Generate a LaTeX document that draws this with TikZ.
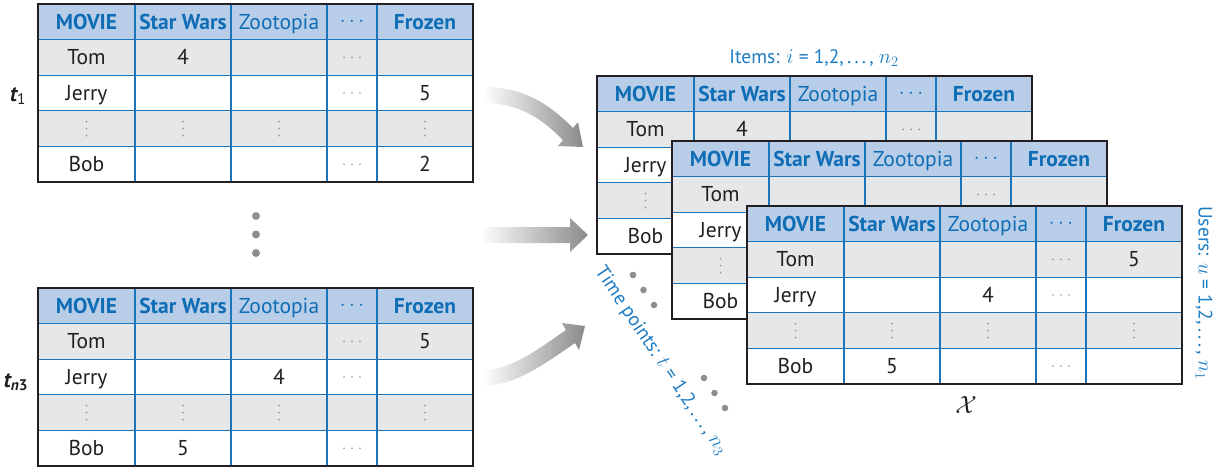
\documentclass[tikz,border=0pt]{standalone}
\usepackage{fontspec}
\setmainfont{PT Sans}

\definecolor{hdrblue}{HTML}{B8CDE8}
\definecolor{rowgray}{HTML}{E6E7E9}
\definecolor{gridblue}{HTML}{1B75BC}
\definecolor{txtblue}{HTML}{0F6DB5}
\definecolor{lblblue}{HTML}{1C7CC4}
\definecolor{framegray}{HTML}{231F20}
\definecolor{inkdark}{HTML}{231F20}
\definecolor{dotgray}{HTML}{8E8E8E}
\definecolor{smalldot}{HTML}{9A9A9A}
\definecolor{arrowgray}{HTML}{8A8A8A}

\tikzset{
  gridline/.style={draw=gridblue, line width=1.3pt},
  frame/.style={draw=framegray, line width=2pt},
  hdr/.style={text=txtblue, anchor=base, inner sep=0pt, font=\fontsize{21.5}{24}\selectfont},
  hdrb/.style={hdr, font=\fontsize{21.5}{24}\selectfont\bfseries},
  cell/.style={text=inkdark, anchor=base, inner sep=0pt, font=\fontsize{21.5}{24}\selectfont},
  lbl/.style={text=lblblue, inner sep=0pt, font=\fontsize{19.5}{22}\selectfont},
  tlabel/.style={text=inkdark, anchor=base, inner sep=0pt, font=\fontsize{22}{26}\selectfont\bfseries\itshape},
  bigdot/.style={fill=dotgray, draw=none},
  flow/.style={left color=white, right color=arrowgray, draw=none},
}

% small dot rows/columns inside the data cells
\newcommand\hdotsat[2]{\foreach \dd in {-8,0,8}{\fill[smalldot] (#1+\dd,#2) circle (0.95);}}
\newcommand\vdotsat[2]{\foreach \dd in {-7,0,7}{\fill[smalldot] (#1,#2+\dd) circle (0.95);}}

% empty rating grid: #1 name, #2/#3 top-left corner
\newcommand\ratingtable[3]{%
  \begin{scope}[shift={(#2,#3)}]
    \fill[hdrblue] (0,0) rectangle (435,35.6);
    \fill[rowgray] (0,35.6) rectangle (435,71.2);
    \fill[white] (0,71.2) rectangle (435,106.8);
    \fill[rowgray] (0,106.8) rectangle (435,142.4);
    \fill[white] (0,142.4) rectangle (435,178);
    \foreach \yy in {35.6,71.2,106.8,142.4}{\draw[gridline] (0,\yy) -- (435,\yy);}
    \foreach \xx in {97,193,289,339}{\draw[gridline] (\xx,0) -- (\xx,178);}
    \draw[frame] (0,0) rectangle (435,178);
    \node[hdrb] (#1-movie) at (48.5,25.3) {MOVIE};
    \node[hdrb] (#1-sw) at (145,25.3) {Star Wars};
    \node[hdr] (#1-zoo) at (241,25.3) {Zootopia};
    \node[hdr] (#1-more) at (314,22.8) {$\cdots$};
    \node[hdrb] (#1-fro) at (387,25.3) {Frozen};
    \node[cell] (#1-tom) at (48.5,60.9) {Tom};
    \node[cell] (#1-jerry) at (48.5,96.5) {Jerry};
    \node[cell] (#1-bob) at (48.5,167.7) {Bob};
    \foreach \xx in {48.5,145,241,387}{\vdotsat{\xx}{124.6}}
    \foreach \yy in {53.4,89,160.2}{\hdotsat{314}{\yy}}
  \end{scope}}

% rating values: #1 name, #2/#3 top-left corner, #4 list row/col/value
\newcommand\ratingvalues[4]{%
  \begin{scope}[shift={(#2,#3)}]
    \foreach \r/\c/\v in {#4}{
      \pgfmathsetmacro\cx{{48.5,145,241,314,387}[\c-1]}
      \pgfmathsetmacro\cy{7.5+17.8+35.6*(\r-1)}
      \node[cell] (#1-v\r\c) at (\cx,\cy) {\v};
    }
  \end{scope}}

\begin{document}
\begin{tikzpicture}[x=1pt,y=-1pt]
  \useasboundingbox (0,0) rectangle (1227,467);

  % per-time-point rating matrices
  \ratingtable{ta}{38}{4}
  \ratingvalues{ta}{38}{4}{2/2/4, 3/5/5, 5/5/2}
  \node[tlabel] (lta) at (18,101) {t\textsubscript{\upshape\mdseries 1}};

  \ratingtable{tb}{38}{288}
  \ratingvalues{tb}{38}{288}{2/5/5, 3/3/4, 5/2/5}
  \node[tlabel] (ltb) at (16,387) {t\textsubscript{n\upshape 3}};

  \fill[bigdot] (256,216) circle (4);
  \fill[bigdot] (256,234.5) circle (4);
  \fill[bigdot] (256,253) circle (4);

  % arrows into the tensor
  \shade[flow] (483,87) .. controls (525,87) and (550,105) .. (573,128)
     -- (578,122) -- (583,147) -- (558,146) -- (563,140)
     .. controls (542,119) and (520,103) .. (483,103) -- cycle;
  \shade[flow] (480,227) -- (570,227) -- (570,218) -- (588,235)
     -- (570,252) -- (570,243) -- (480,243) -- cycle;
  \shade[flow] (482,370) .. controls (512,370) and (538,349) .. (566,330)
     -- (562,323) -- (585,326) -- (579,350) -- (575,343)
     .. controls (546,363) and (515,386) .. (482,386) -- cycle;

  % stacked slices of the tensor
  \ratingtable{sa}{597}{76}
  \ratingvalues{sa}{597}{76}{2/2/4, 3/5/5, 5/5/2}
  \ratingtable{sb}{672}{141}
  \ratingtable{sc}{747}{206}
  \ratingvalues{sc}{747}{206}{2/5/5, 3/3/4, 5/2/5}

  % axis labels
  \node[lbl, anchor=base] (items) at (814,63) {Items: $i$ = 1,2,\,.\,.\,.\,, $n_2$};
  \node[lbl, rotate=-90] (users) at (1204,293) {Users: $u$ = 1,2,\,.\,.\,.\,, $n_1$};
  \node[lbl, rotate=-56] (times) at (661,361) {Time points: $t$ = 1,2,\,.\,.\,.\,, $n_3$};
  \foreach \px/\py in {633/275, 643.5/290, 654/305, 704/378, 714.5/393, 725/408}
    {\fill[bigdot] (\px,\py) circle (3.3);}

  \node[text=inkdark, inner sep=0pt] (tensor) at (966,405) {\fontsize{26}{30}\selectfont$\mathcal{X}$};
\end{tikzpicture}
\end{document}
